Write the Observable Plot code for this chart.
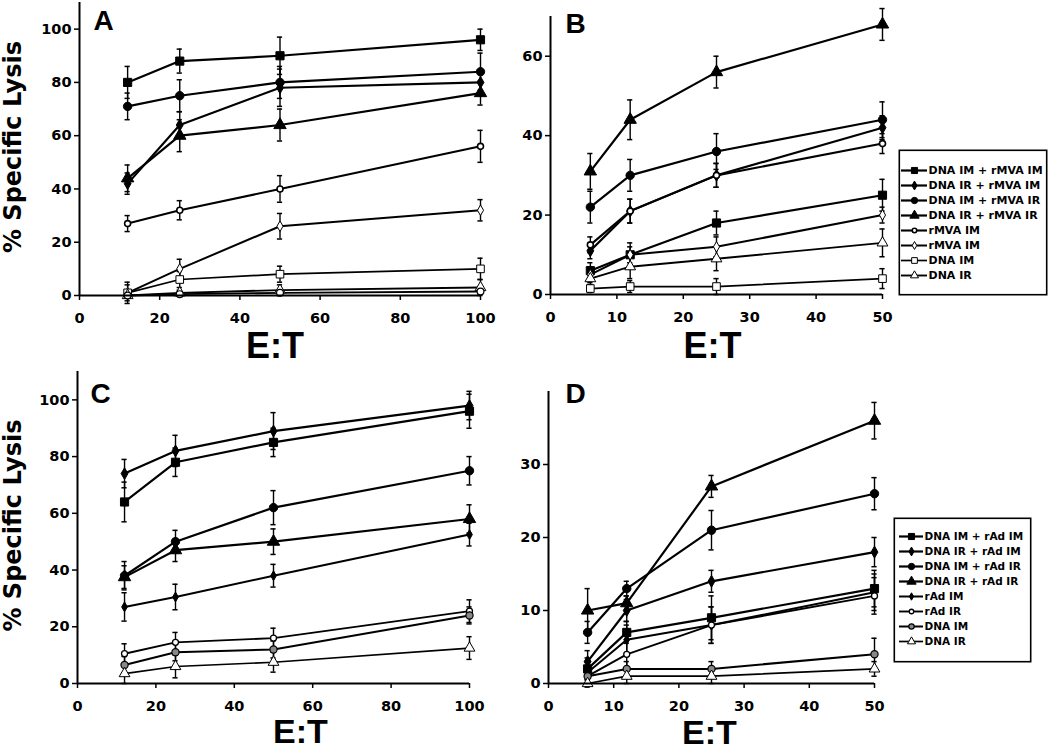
<!DOCTYPE html>
<html><head><meta charset="utf-8">
<script src="https://cdn.jsdelivr.net/npm/d3@7"></script>
<script src="https://cdn.jsdelivr.net/npm/@observablehq/plot@0.6"></script>
<style>
body{margin:0;background:#fff;}
#root{position:relative;width:1050px;height:752px;overflow:hidden;background:#fff;}
#root > svg{position:absolute;margin:0;}
#root g[aria-label="x-axis tick"] path, #root g[aria-label="y-axis tick"] path{stroke-width:1.5;}
</style></head><body><div id="root"></div>
<script>
// ---------- data ----------
const etAC = [12, 25, 50, 100];
const etBD = [6, 12, 25, 50];
const xTicksAC = [0, 20, 40, 60, 80, 100];
const xTicksBD = [0, 10, 20, 30, 40, 50];
const yTicksA = [0, 20, 40, 60, 80, 100];
const yTicksB = [0, 20, 40, 60];
const yTicksC = [0, 20, 40, 60, 80, 100];
const yTicksD = [0, 10, 20, 30];
const legendB = ["DNA IM + rMVA IM", "DNA IR + rMVA IM", "DNA IM + rMVA IR", "DNA IR + rMVA IR", "rMVA IM", "rMVA IM", "DNA IM", "DNA IR"];
const legendD = ["DNA IM + rAd IM", "DNA IR + rAd IM", "DNA IM + rAd IR", "DNA IR + rAd IR", "rAd IM", "rAd IR", "DNA IM", "DNA IR"];

const lysisA = [
  [80, 88, 90, 96],
  [42, 64, 78, 80],
  [71, 75, 80, 84],
  [44, 60, 64, 76],
  [27, 32, 40, 56],
  [1, 10, 26, 32],
  [1, 6, 8, 10],
  [0, 1, 2, 3],
  [0, 0.5, 1, 1.5]
];
const errA = [
  [6, 4.5, 7, 4],
  [4, 5, 7, 4],
  [5, 6, 6, 7],
  [5, 6, 6, 4.5],
  [3, 3.6, 5, 6],
  [4, 3.6, 4.8, 4],
  [3, 3, 3, 4],
  [1, 1, 2, 3],
  [0.5, 0.5, 1, 1]
];
const lysisB = [
  [6, 10, 18, 25],
  [11, 21, 30, 42],
  [22, 30, 36, 44],
  [31, 44, 56, 68],
  [12.5, 21, 30, 38],
  [5, 10, 12, 20],
  [1.5, 2, 2, 4],
  [4, 7, 9, 13]
];
const errB = [
  [2, 3, 3, 4],
  [2, 3, 3, 3],
  [4, 4, 4.5, 4.5],
  [4.5, 5, 4, 4],
  [2, 3, 3, 2.5],
  [2, 2, 2.5, 2],
  [1, 1.5, 2, 2.5],
  [2, 3, 3, 3.5]
];
const lysisC = [
  [64, 78, 85, 96],
  [74, 82, 89, 98],
  [38, 50, 62, 75],
  [37.5, 47, 50, 58],
  [27, 30.5, 38, 52.5],
  [10.5, 14.5, 16, 25.5],
  [6.5, 11, 12, 24],
  [3.5, 6, 7.5, 12.5]
];
const errC = [
  [7, 5, 5, 6],
  [5, 5.5, 6.5, 5],
  [5, 4, 6, 5],
  [4, 4, 4.5, 5],
  [5, 4.5, 4, 4],
  [3.5, 3.5, 3.5, 4],
  [3, 3, 3, 3],
  [3.5, 4, 3.5, 4]
];
const lysisD = [
  [2, 7, 9, 13],
  [3, 10, 14, 18],
  [7, 13, 21, 26],
  [10, 11, 27, 36],
  [1.5, 6, 8, 12.5],
  [1, 4, 8, 12],
  [1, 2, 2, 4],
  [0, 1, 1, 2]
];
const errD = [
  [1.5, 1.5, 3, 2.5],
  [1.5, 1.5, 1.5, 2],
  [1.5, 1, 2.7, 2.2],
  [3, 1, 1.5, 2.5],
  [1.5, 2, 2.5, 2.5],
  [1, 2, 2.5, 2.5],
  [1, 1, 1, 2.2],
  [0.5, 1, 1, 1]
];

// ---------- styles ----------
const stylesAB = [
  {symbol: "square", fill: "black", r: 4.6, sw: 1, line: 2.2},
  {symbol: "diamond", fill: "black", r: 3.6, sw: 1, line: 2.2},
  {symbol: "circle", fill: "black", r: 4.2, sw: 1, line: 2.2},
  {symbol: "triangle", fill: "black", r: 4.6, sw: 1, line: 2.2},
  {symbol: "circle", fill: "white", r: 3.0, sw: 1.6, line: 2.1},
  {symbol: "diamond", fill: "white", r: 3.2, sw: 1, line: 2.0},
  {symbol: "square", fill: "white", r: 4.3, sw: 1, line: 1.7},
  {symbol: "triangle", fill: "white", r: 4.0, sw: 1, line: 1.9},
  {symbol: "circle", fill: "white", r: 3.4, sw: 1.2, line: 1.9}
];
const stylesCD = [
  {symbol: "square", fill: "black", r: 4.6, sw: 1, line: 2.2},
  {symbol: "diamond", fill: "black", r: 3.6, sw: 1, line: 2.2},
  {symbol: "circle", fill: "black", r: 4.2, sw: 1, line: 2.2},
  {symbol: "triangle", fill: "black", r: 4.6, sw: 1, line: 2.2},
  {symbol: "diamond", fill: "black", r: 3.0, sw: 1, line: 2.0},
  {symbol: "circle", fill: "white", r: 3.0, sw: 1.3, line: 1.9},
  {symbol: "circle", fill: "#888", r: 3.6, sw: 1.2, line: 2.0},
  {symbol: "triangle", fill: "white", r: 4.0, sw: 1, line: 1.7}
];

const root = document.getElementById("root");
const baseStyle = {fontFamily: "DejaVu Sans", fontSize: "14.5px", fontWeight: "bold", background: "transparent", color: "black", overflow: "visible"};

function panel(cfg) {
  const rows = cfg.values.flatMap((vals, s) => vals.map((v, i) => ({x: cfg.xs[i], y: v, e: cfg.errs[s][i], s})));
  const marks = [];
  marks.push(Plot.ruleX(rows, {x: "x", y1: d => d.y - d.e, y2: d => d.y + d.e, strokeWidth: 1.4}));
  marks.push(Plot.ruleY(rows, {y: d => d.y + d.e, x1: "x", x2: "x", insetLeft: -2.6, insetRight: -2.6, strokeWidth: 1.5}));
  marks.push(Plot.ruleY(rows, {y: d => d.y - d.e, x1: "x", x2: "x", insetLeft: -2.6, insetRight: -2.6, strokeWidth: 1.5}));
  cfg.values.forEach((vals, s) => {
    const st = cfg.styles[s];
    marks.push(Plot.line(rows.filter(d => d.s === s), {x: "x", y: "y", stroke: "black", strokeWidth: st.line}));
  });
  cfg.values.forEach((vals, s) => {
    const st = cfg.styles[s];
    marks.push(Plot.dot(rows.filter(d => d.s === s), {x: "x", y: "y", symbol: st.symbol, r: st.r, fill: st.fill, stroke: "black", strokeWidth: st.sw}));
  });
  marks.push(Plot.ruleY([0], {strokeWidth: 2}));
  marks.push(Plot.ruleX([0], {strokeWidth: 2}));
  marks.push(Plot.text([cfg.letter], {frameAnchor: "top-left", textAnchor: "start", lineAnchor: "top", dx: cfg.letterDx, dy: cfg.letterDy, fontSize: 28, fontFamily: "Liberation Sans", fontWeight: "bold"}));
  marks.push(Plot.text(["E:T"], {frameAnchor: "bottom", lineAnchor: "middle", dx: cfg.etDx, dy: cfg.etDy, fontSize: cfg.etSize || 36, fontFamily: "Liberation Sans", fontWeight: "bold"}));
  if (cfg.ylabel) {
    marks.push(Plot.text([cfg.ylabel], {frameAnchor: "left", rotate: -90, lineAnchor: "middle", textAnchor: "middle", dx: cfg.ylabDx, dy: cfg.ylabDy, fontSize: 24, fontFamily: "DejaVu Sans", fontWeight: "bold"}));
  }
  const svg = Plot.plot({
    width: cfg.width, height: cfg.height,
    marginLeft: cfg.ml, marginRight: cfg.mr, marginTop: cfg.mt, marginBottom: cfg.mb,
    x: {domain: cfg.xdomain, ticks: cfg.xticks, tickSize: 5, tickPadding: 12, tickFormat: d => String(d), label: null},
    y: {domain: cfg.ydomain, ticks: cfg.yticks, tickSize: 5, tickPadding: 3, tickFormat: d => String(d), label: null},
    style: baseStyle,
    marks
  });
  svg.style.left = cfg.left + "px";
  svg.style.top = cfg.top + "px";
  root.appendChild(svg);
}

function legend(cfg) {
  const idx = d3.range(cfg.labels.length);
  const marks = [Plot.frame({stroke: "black", strokeWidth: 1.6, inset: 0.8})];
  idx.forEach(i => {
    const st = cfg.styles[i];
    marks.push(Plot.ruleY([i], {y: d => d, x1: cfg.lx1, x2: cfg.lx2, strokeWidth: st.line}));
    marks.push(Plot.dot([i], {x: (cfg.lx1 + cfg.lx2) / 2, y: d => d, symbol: st.symbol, r: st.r * 0.75, fill: st.fill, stroke: "black", strokeWidth: st.sw}));
  });
  marks.push(Plot.text(idx, {x: cfg.tx, y: d => d, text: d => cfg.labels[d], textAnchor: "start", lineAnchor: "middle", fontSize: cfg.fs, fontFamily: "DejaVu Sans", fontWeight: "bold"}));
  const svg = Plot.plot({
    width: cfg.width, height: cfg.height, margin: 0,
    x: {type: "identity", axis: null},
    y: {type: "point", domain: idx, range: cfg.yrange, axis: null},
    style: {background: "transparent", overflow: "visible", color: "black"},
    marks
  });
  svg.style.left = cfg.left + "px";
  svg.style.top = cfg.top + "px";
  root.appendChild(svg);
}

panel({values: lysisA, errs: errA, styles: stylesAB, xs: etAC, xdomain: [0, 100], ydomain: [0, 110], xticks: xTicksAC, yticks: yTicksA,
  left: 0, top: 0, width: 500, height: 370, ml: 79, mr: 20, mt: 2, mb: 75,
  letter: "A", letterDx: 14, letterDy: 8, etDx: -5, etDy: 51, ylabel: "% Specific Lysis", ylabDx: -66, ylabDy: -2});
panel({values: lysisB, errs: errB, styles: stylesAB, xs: etBD, xdomain: [0, 50], ydomain: [0, 70], xticks: xTicksBD, yticks: yTicksB,
  left: 500, top: 0, width: 550, height: 370, ml: 50, mr: 168, mt: 16, mb: 76,
  letter: "B", letterDx: 15, letterDy: -3, etDx: -4, etDy: 52});
panel({values: lysisC, errs: errC, styles: stylesCD, xs: etAC, xdomain: [0, 100], ydomain: [0, 110], xticks: xTicksAC, yticks: yTicksC,
  left: 0, top: 366, width: 500, height: 384, ml: 77, mr: 31, mt: 5, mb: 67,
  letter: "C", letterDx: 13, letterDy: 12, etDx: 27, etDy: 49, etSize: 34, ylabel: "% Specific Lysis", ylabDx: -64, ylabDy: -2});
panel({values: lysisD, errs: errD, styles: stylesCD, xs: etBD, xdomain: [0, 50], ydomain: [0, 40], xticks: xTicksBD, yticks: yTicksD,
  left: 500, top: 366, width: 550, height: 384, ml: 48, mr: 176, mt: 25, mb: 67,
  letter: "D", letterDx: 17, letterDy: -8, etDx: -2, etDy: 50, etSize: 34});

legend({labels: legendB, styles: stylesAB, left: 898, top: 149, width: 149, height: 146, yrange: [11, 136], lx1: 3, lx2: 29, tx: 30, fs: 11});
legend({labels: legendD, styles: stylesCD, left: 893, top: 517, width: 138, height: 145, yrange: [9, 134], lx1: 6, lx2: 30, tx: 31, fs: 10.5});
</script></body></html>
